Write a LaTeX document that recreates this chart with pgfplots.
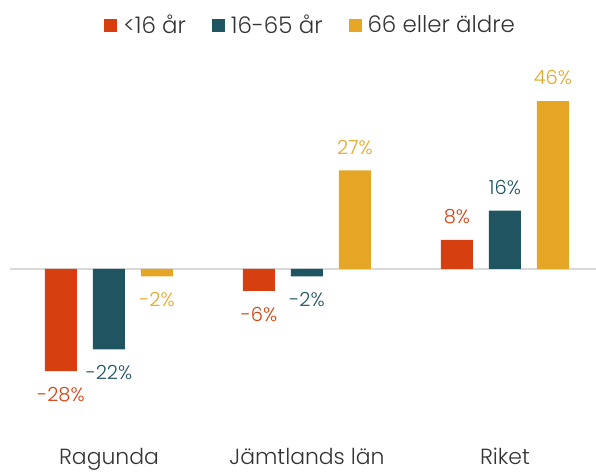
\documentclass[border=0pt]{standalone}
\usepackage{fontspec}
\setmainfont{Poppins}[UprightFont=* Light]
\usepackage{pgfplots}
\pgfplotsset{compat=1.18}
\definecolor{ungred}{RGB}{214,64,16}
\definecolor{vuxteal}{RGB}{31,85,96}
\definecolor{aldgold}{RGB}{229,166,38}
\definecolor{txtgray}{RGB}{51,51,51}
\definecolor{zerogray}{RGB}{217,217,217}

\begin{document}
\begin{tikzpicture}
\begin{axis}[
    ybar=16bp, bar width=32bp,
    scale only axis, width=586bp, height=357.7bp,
    xmin=-0.5, xmax=2.46, ymin=-48, ymax=50,
    xtick={0,1,2}, xticklabels={Ragunda, Jämtlands län, Riket},
    ytick=\empty, major tick length=0pt,
    axis line style={draw=none},
    xticklabel style={font=\fontsize{22}{26}\selectfont, text=txtgray, yshift=-0.5bp},
    clip=false,
    nodes near coords={\pgfmathprintnumber[assume math mode=true]{\pgfplotspointmeta}\%},
    every node near coord/.append style={font=\fontsize{19.5}{23}\selectfont, inner ysep=16bp, inner xsep=0pt},
    legend style={at={(0.513,1.172)}, anchor=center, draw=none, legend columns=3,
                  font=\fontsize{23}{27}\selectfont, text=txtgray,
                  /tikz/every odd column/.append style={column sep=4bp},
                  /tikz/every even column/.append style={column sep=24bp}},
    legend image code/.code={\fill[#1,draw=none] (0bp,-7.5bp) rectangle (13bp,5.5bp);},
]
\draw[zerogray, line width=2bp] (axis cs:-0.5,0) -- (axis cs:2.46,0);
\addplot[fill=ungred, draw=none, every node near coord/.append style={text=ungred}]
    coordinates {(0,-28) (1,-6) (2,8)};
\addplot[fill=vuxteal, draw=none, every node near coord/.append style={text=vuxteal}]
    coordinates {(0,-22) (1,-2) (2,16)};
\addplot[fill=aldgold, draw=none, every node near coord/.append style={text=aldgold}]
    coordinates {(0,-2) (1,27) (2,46)};
\legend{<16 år, 16-65 år, 66 eller äldre}
\end{axis}
\pgfresetboundingbox
\path ([xshift=-10bp,yshift=-27.8bp]current axis.south west)
    rectangle ([yshift=86.5bp]current axis.north east);
\end{tikzpicture}
\end{document}
